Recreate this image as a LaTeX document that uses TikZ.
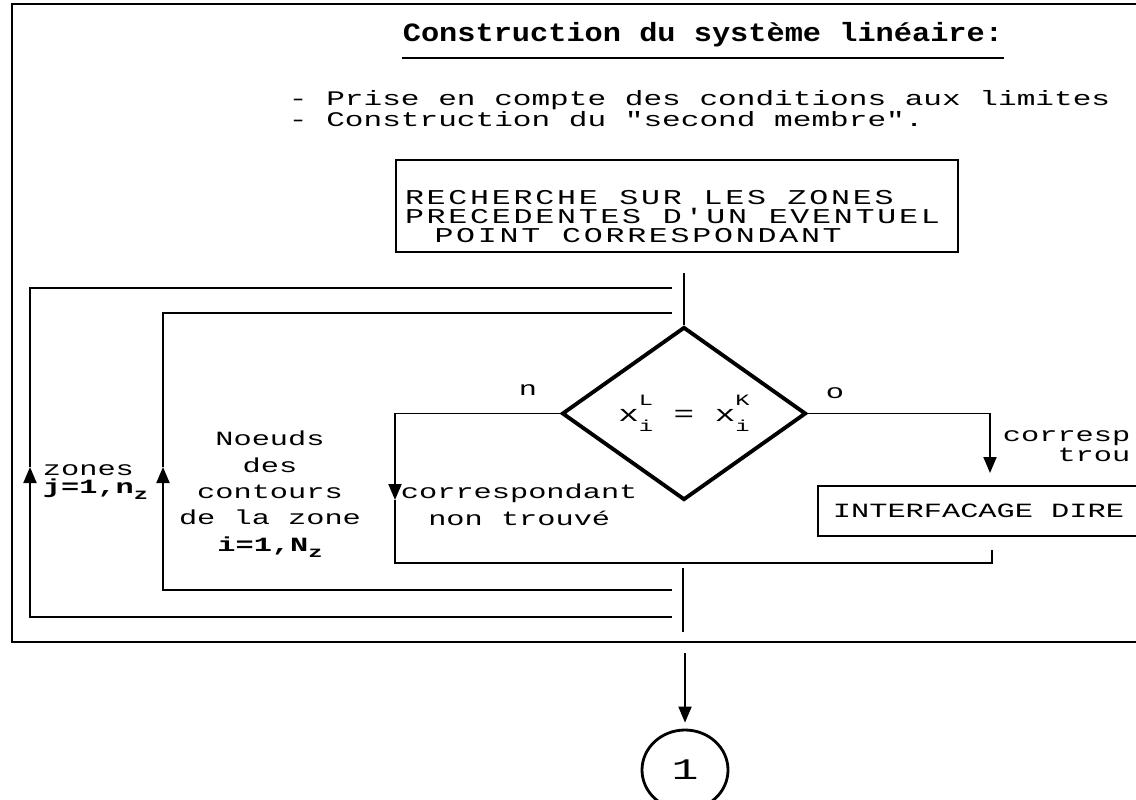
\documentclass[tikz,border=0pt]{standalone}
\usepackage{fontspec}
\newfontfamily\matrice[FakeStretch=1.5]{Liberation Mono}
\newfontfamily\matricetitre[FakeStretch=1.15]{Liberation Mono}
\newfontfamily\matricecap[FakeStretch=1.5,LetterSpace=13]{Liberation Mono}
\newcommand{\indice}[1]{\raisebox{-0.6ex}{\bfseries\fontsize{9}{9}\selectfont #1}}
\newcommand{\coordx}[1]{x\rlap{\raisebox{1.3ex}{\fontsize{9}{9}\selectfont #1}}\raisebox{-0.9ex}{\fontsize{9}{9}\selectfont i}}
\usepackage{tikz}
\usetikzlibrary{arrows.meta,positioning,shapes.geometric}
\definecolor{encre}{RGB}{0,0,0}

\begin{document}
\begin{tikzpicture}[encre,line width=1.1pt,
	texte/.style={font=\matrice\fontsize{11.5}{10}\selectfont,inner sep=0pt},
	boite/.style={draw,line width=1.1pt,inner sep=0pt},
	fleche/.style={-{Triangle[length=3.2mm,width=2.6mm]}},
	test/.style={draw,diamond,line width=2.2pt,minimum width=4.88cm,minimum height=3.46cm,inner sep=0pt}]
	%% cadre general (coupe a droite)
	\useasboundingbox (0,0) rectangle (22.72,15.98);
	\clip (0,0) rectangle (22.72,15.98);
	\draw (23.5,15.9) -| (0.24,3.14) -- (23.5,3.14);
	
	%% titre et etapes
	\node[texte,font=\matricetitre\bfseries\fontsize{15}{15}\selectfont] (titre) at (14.06,15.28) {Construction du système linéaire:};
	\draw ([yshift=-0.2cm]titre.south west) -- ([yshift=-0.2cm]titre.south east);
	\node[texte,anchor=west,align=left,font=\matrice\fontsize{11.8}{9.7}\selectfont] (etapes) at (5.76,13.81) {- Prise en compte des conditions aux limites\\- Construction du "second membre".};
	
	%% recherche du point correspondant
	\node[boite,minimum width=11.24cm,minimum height=1.84cm] (recherche) at (13.54,11.86) {};
	\node[inner sep=0pt,align=left,font=\matricecap\fontsize{12}{10.8}\selectfont,right=0.18cm of recherche.west,yshift=-0.22cm] (recherche-texte) {RECHERCHE SUR LES ZONES\\PRECEDENTES D'UN EVENTUEL\\\hspace*{1.4em}POINT CORRESPONDANT};
	
	%% test
	\node[test,font=\matrice\fontsize{13}{13}\selectfont] (test) at (13.68,7.71) {\coordx{L}\hphantom{m}=\hphantom{m}\coordx{K}};
	\coordinate (entree) at (13.68,10.52);
	\draw (entree) -- (test.north);
	
	%% boucle sur les zones
	\coordinate (jhaut) at (13.44,10.22);
	\coordinate (jbas) at (13.44,3.64);
	\coordinate (jgauche) at (0.6,6.64);
	\draw[fleche] (jbas) -| (jgauche);
	\draw (jgauche) |- (jhaut);
	%% boucle sur les noeuds
	\coordinate (ihaut) at (13.44,9.72);
	\coordinate (ibas) at (13.44,4.18);
	\coordinate (igauche) at (3.26,6.64);
	\draw[fleche] (ibas) -| (igauche);
	\draw (igauche) |- (ihaut);
	\coordinate (fin-haut) at (13.66,4.62);
	\coordinate (fin-bas) at (13.66,3.34);
	\draw (fin-haut) -- (fin-bas);
	
	%% branche non
	\coordinate (nonfleche) at (7.9,5.98);
	\coordinate (retour-bas) at (19.84,4.72);
	\coordinate (retour-haut) at (19.84,4.98);
	\draw[fleche] (test.west) -| (nonfleche);
	\draw (nonfleche) |- (retour-bas) -- (retour-haut);
	\node[texte] (non) at (10.56,8.18) {n};
	\node[texte,anchor=west,align=center,font=\matrice\fontsize{11.5}{15.5}\selectfont] (nontrouve) at (8.0,5.88) {correspondant\\non trouvé};
	
	%% branche oui (coupee par le bord)
	\coordinate (ouifleche) at (19.8,6.52);
	\draw[fleche] (test.east) -| (ouifleche);
	\node[texte] (oui) at (16.7,8.12) {o};
	\node[texte,anchor=north west,align=left] (trouve) at (20.04,7.38) {corresp\\\hphantom{cor}trou};
	\node[boite,anchor=north west,inner xsep=0.3cm,text width=6.9cm,align=left,minimum height=1cm,font=\matrice\fontsize{11.5}{12}\selectfont] (interf) at (16.34,6.28) {INTERFACAGE\hphantom{E}DIRE};
	
	%% indices de boucle
	\node[texte,anchor=west,align=left] (zones) at (0.84,6.34) {zones\\{\bfseries j=1,n}\indice{z}};
	\node[texte,align=center,font=\matrice\fontsize{11.5}{15}\selectfont] (noeuds) at (5.4,6.09) {Noeuds\\des\\contours\\de la zone\\{\bfseries i=1,N}\indice{z}};
	
	%% renvoi
	\coordinate (sortie) at (13.7,2.92);
	\node[draw,ellipse,line width=1.6pt,minimum width=1.72cm,minimum height=1.6cm,font=\matrice\fontsize{17}{17}\selectfont] (renvoi) at (13.7,0.58) {1};
	\draw[fleche,shorten >=0.12cm] (sortie) -- (renvoi.north);
\end{tikzpicture}
\end{document}
